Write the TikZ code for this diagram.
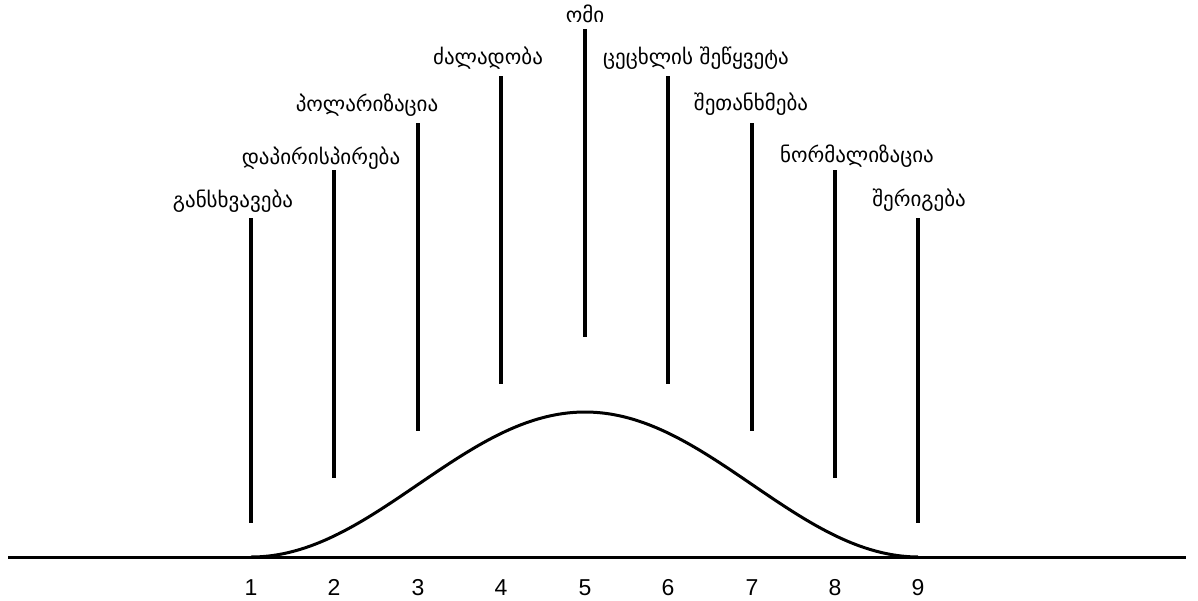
\documentclass[tikz,border=0pt]{standalone}
\usepackage{fontspec}
\setmainfont{Liberation Sans}
\newfontfamily\geo{DejaVu Sans}
\begin{document}
\begin{tikzpicture}[x=1pt,y=-1pt,
  tick/.style={line width=3.2pt},
  lab/.style={font=\geo\fontsize{21}{24}\selectfont, anchor=base, inner sep=0pt},
  num/.style={font=\fontsize{23}{26}\selectfont, anchor=base, inner sep=0pt}]
\useasboundingbox (0,0) rectangle (1198,600);
% axis
\coordinate (axL) at (8,557);
\coordinate (axR) at (1186,557);
\draw[line width=3pt] (axL) -- (axR);
% ticks
\foreach \i/\x/\t/\b in {1/251/218/523, 2/334/170/478, 3/418/123/431, 4/501/76/384, 5/585/29/337, 6/668/76/384, 7/752/123/431, 8/835/170/478, 9/918/218/523}{
  \coordinate (t\i) at (\x,\t);
  \coordinate (b\i) at (\x,\b);
  \draw[tick] (t\i) -- (b\i);
  \node[num] (n\i) at (\x,595) {\i};
}
% labels
\node[lab] (l1) at (233,207) {განსხვავება};
\node[lab] (l2) at (321,164) {დაპირისპირება};
\node[lab] (l3) at (367,111) {პოლარიზაცია};
\node[lab] (l4) at (488,64) {ძალადობა};
\node[lab] (l5) at (585,22) {ომი};
\node[lab] (l6) at (696,64) {ცეცხლის შეწყვეტა};
\node[lab] (l7) at (751,110) {შეთანხმება};
\node[lab] (l8) at (857,162) {ნორმალიზაცია};
\node[lab] (l9) at (919,206) {შერიგება};
% curve
\draw[line width=3pt, smooth] plot[domain=251:918, samples=80] (\x,{557-145*(1+cos(((\x-585)/334)*180))/2});
\end{tikzpicture}
\end{document}
